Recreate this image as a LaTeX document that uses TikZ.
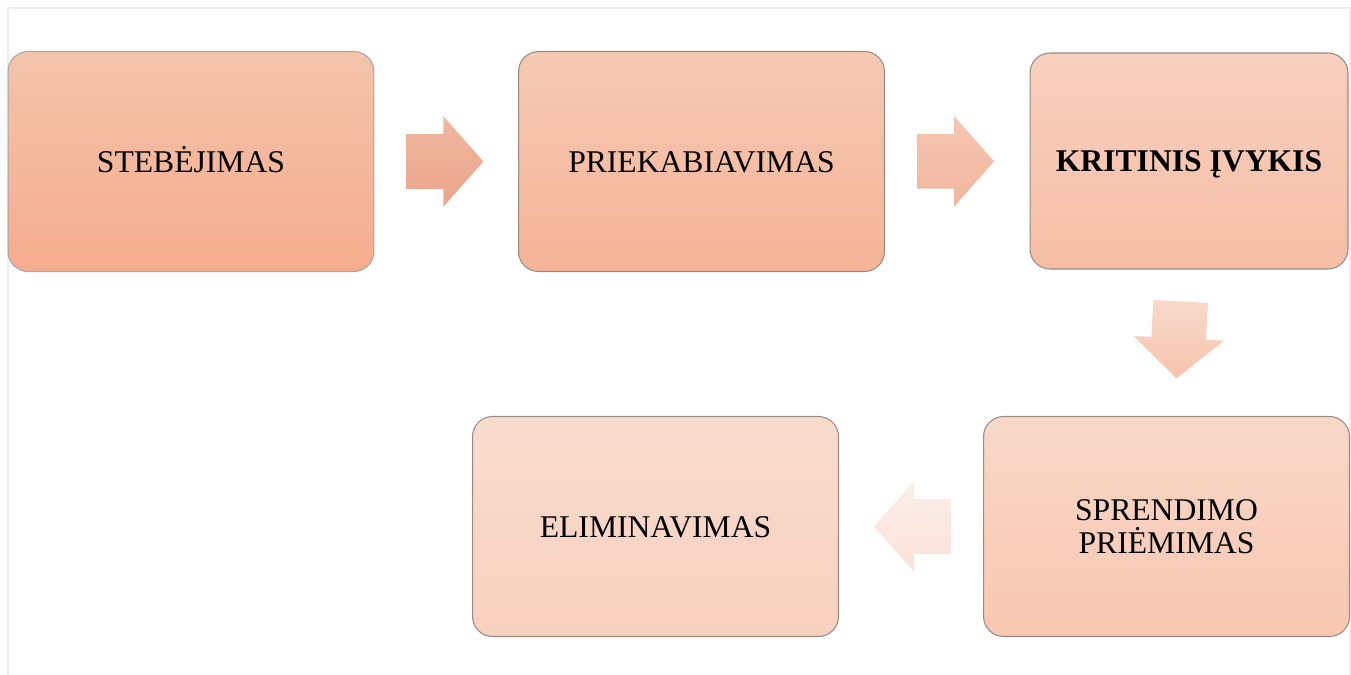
\documentclass[tikz,border=0pt]{standalone}
\usepackage{fontspec}
\setmainfont{Liberation Serif}
\usetikzlibrary{calc,positioning,shapes.arrows}

\definecolor{edgegray}{HTML}{9A8A85}
\definecolor{framegray}{HTML}{EDEDED}

\begin{document}
\begin{tikzpicture}[x=0.02cm,y=-0.02cm,
  stage/.style={draw=edgegray,line width=0.6pt,rounded corners=0.4cm,
    minimum width=7.32cm,minimum height=4.4cm,align=center,
    font=\fontsize{18}{19}\selectfont},
  oneline/.style={text height=12pt,text depth=0pt},
  flow/.style={single arrow,anchor=tail,inner xsep=0pt,inner ysep=0.54cm,minimum height=1.54cm,minimum width=1.8cm,
    single arrow head extend=0.36cm,single arrow tip angle=97}]
\useasboundingbox (0,0) rectangle (1351,675);
\draw[framegray,line width=0.04cm] (8,675) |- (1350,8) -- (1350,675);

\node[stage,oneline,draw=gray!70,top color={rgb,255:red,243;green,196;blue,171},bottom color={rgb,255:red,245;green,172;blue,141}]
  (steb) at (191,161.5) {STEBĖJIMAS};
\node[stage,oneline,top color={rgb,255:red,245;green,201;blue,180},bottom color={rgb,255:red,245;green,180;blue,151}]
  (priek) at (701.5,161.5) {PRIEKABIAVIMAS};
\node[stage,oneline,minimum width=6.36cm,minimum height=4.32cm,font=\fontsize{18}{19}\selectfont\bfseries,
  top color={rgb,255:red,247;green,208;blue,191},bottom color={rgb,255:red,246;green,190;blue,165}]
  (krit) at (1189,161) {KRITINIS ĮVYKIS};
\node[stage,top color={rgb,255:red,248;green,216;blue,200},bottom color={rgb,255:red,248;green,199;blue,177}]
  (spr) at (1166.5,526.5) {SPRENDIMO\\PRIĖMIMAS};
\node[stage,oneline,top color={rgb,255:red,248;green,220;blue,206},bottom color={rgb,255:red,248;green,208;blue,190}]
  (elim) at (655.5,526.5) {ELIMINAVIMAS};

% block arrows between the stages
\node[flow,top color={rgb,255:red,239;green,184;blue,161},bottom color={rgb,255:red,235;green,164;blue,137}]
  (go1) at ($(steb.east)!0.22!(priek.west)$) {};
\node[flow,top color={rgb,255:red,244;green,198;blue,178},bottom color={rgb,255:red,242;green,182;blue,158}]
  (go2) at ($(priek.east)!0.22!(krit.west)$) {};
\node[flow,rotate=-93,top color={rgb,255:red,248;green,217;blue,203},bottom color={rgb,255:red,246;green,196;blue,174}]
  (go3) at ([xshift=-0.07cm]$(krit.south)!0.216!(spr.north)$) {};
\node[flow,shape border rotate=180,top color={rgb,255:red,251;green,238;blue,233},bottom color={rgb,255:red,249;green,226;blue,216}]
  (go4) at ($(spr.west)!0.22!(elim.east)$) {};
\end{tikzpicture}
\end{document}
